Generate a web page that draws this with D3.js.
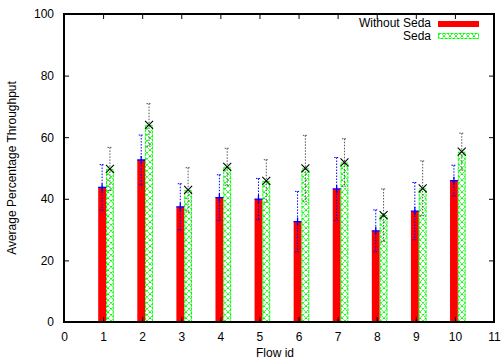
<!DOCTYPE html>
<html>
<head>
<meta charset="utf-8">
<script src="https://cdn.jsdelivr.net/npm/d3@7"></script>
<style>
  html, body { margin: 0; padding: 0; background: #fff; }
  svg { display: block; font-family: "Liberation Sans", Arial, Helvetica, sans-serif; }
</style>
</head>
<body>
<svg id="chart" width="501" height="362"></svg>
<script>
// Average throughput per flow, with and without Seda (mean and +/- error)
const flows = [1, 2, 3, 4, 5, 6, 7, 8, 9, 10];
const withoutSeda = [43.7, 52.6, 37.4, 40.4, 39.9, 32.6, 43.2, 29.6, 36.0, 45.9];
const withoutSedaErr = [7.4, 8.1, 7.5, 7.4, 6.7, 9.8, 10.2, 6.8, 9.3, 5.0];
const withSeda = [49.7, 64.0, 42.9, 50.4, 45.8, 49.9, 51.8, 34.7, 43.4, 55.3];
const withSedaErr = [7.0, 6.9, 7.2, 6.0, 6.9, 10.7, 7.7, 8.5, 8.9, 6.0];
const xTicks = [0, 1, 2, 3, 4, 5, 6, 7, 8, 9, 10, 11];
const yTicks = [0, 20, 40, 60, 80, 100];
const seriesNames = ["Without Seda", "Seda"];

const svg = d3.select("#chart");
const plotL = 64, plotR = 494, plotT = 14, plotB = 322;

const x = d3.scaleLinear().domain([0, 11]).range([plotL, plotR]);
const y = d3.scaleLinear().domain([0, 100]).range([plotB, plotT]);

// crosshatch fill for the Seda bars
const defs = svg.append("defs");
const pat = defs.append("pattern")
  .attr("id", "hatch")
  .attr("patternUnits", "userSpaceOnUse")
  .attr("width", 6).attr("height", 6);
pat.append("rect").attr("width", 6).attr("height", 6).attr("fill", "#fff");
pat.append("path")
  .attr("d", "M0,0 L6,6 M6,0 L0,6")
  .attr("stroke", "#00ff00").attr("stroke-width", 1)
  .attr("stroke-dasharray", "2,1");

const barW = 0.2;
const redOff = -0.125, greenOff = 0.075;

const rows = flows.map((f, i) => ({
  f, a: withoutSeda[i], ae: withoutSedaErr[i], b: withSeda[i], be: withSedaErr[i]
}));

// Without Seda bars
svg.append("g").selectAll("rect").data(rows).join("rect")
  .attr("x", d => x(d.f + redOff))
  .attr("width", d => x(d.f + redOff + barW) - x(d.f + redOff))
  .attr("y", d => y(d.a))
  .attr("height", d => y(0) - y(d.a))
  .attr("fill", "#ff0000");

// Seda bars
svg.append("g").selectAll("rect").data(rows).join("rect")
  .attr("x", d => x(d.f + greenOff) + 0.5)
  .attr("width", d => x(d.f + greenOff + barW) - x(d.f + greenOff) - 1)
  .attr("y", d => y(d.b) + 0.5)
  .attr("height", d => y(0) - y(d.b) - 0.5)
  .attr("fill", "url(#hatch)")
  .attr("stroke", "#00ff00")
  .attr("stroke-width", 1)
  .attr("stroke-dasharray", "3,1");

// error bars
function errorBars(cls, getX, getV, getE, color) {
  const g = svg.append("g").attr("class", cls);
  rows.forEach(d => {
    const cx = x(getX(d));
    const y1 = y(getV(d) + getE(d)), y2 = y(getV(d) - getE(d));
    g.append("line").attr("x1", cx).attr("x2", cx).attr("y1", y1).attr("y2", y2)
      .attr("stroke", color).attr("stroke-width", 1).attr("stroke-dasharray", "1.5,1.5");
    [y1, y2].forEach(yy => {
      g.append("line").attr("x1", cx - 2.5).attr("x2", cx + 2.5).attr("y1", yy).attr("y2", yy)
        .attr("stroke", color).attr("stroke-width", 1).attr("stroke-dasharray", "1.5,1");
    });
  });
  return g;
}
errorBars("err-a", d => d.f + redOff + barW / 2, d => d.a, d => d.ae, "#0000ff");
errorBars("err-b", d => d.f + greenOff + barW / 2, d => d.b, d => d.be, "#555");

// point markers: + for Without Seda, x for Seda
const mk = svg.append("g");
rows.forEach(d => {
  const cx = x(d.f + redOff + barW / 2), cy = y(d.a);
  mk.append("path").attr("d", `M${cx - 4},${cy} H${cx + 4} M${cx},${cy - 4} V${cy + 4}`)
    .attr("stroke", "#0000ff").attr("stroke-width", 1.3);
  const gx = x(d.f + greenOff + barW / 2), gy = y(d.b);
  mk.append("path").attr("d", `M${gx - 4},${gy - 4} L${gx + 4},${gy + 4} M${gx + 4},${gy - 4} L${gx - 4},${gy + 4}`)
    .attr("stroke", "#000").attr("stroke-width", 1.1);
});

// axes (ticks point inward, mirrored on top and right)
const axB = svg.append("g").attr("transform", `translate(0,${plotB})`)
  .call(d3.axisBottom(x).tickValues(xTicks).tickSizeInner(-5).tickSizeOuter(0).tickPadding(12));
const axT = svg.append("g").attr("transform", `translate(0,${plotT})`)
  .call(d3.axisTop(x).tickValues(xTicks).tickSizeInner(-5).tickSizeOuter(0).tickFormat(""));
const axL = svg.append("g").attr("transform", `translate(${plotL},0)`)
  .call(d3.axisLeft(y).tickValues(yTicks).tickSizeInner(-5).tickSizeOuter(0).tickPadding(10));
const axR = svg.append("g").attr("transform", `translate(${plotR},0)`)
  .call(d3.axisRight(y).tickValues(yTicks).tickSizeInner(-5).tickSizeOuter(0).tickFormat(""));
[axB, axT, axL, axR].forEach(a => {
  a.select(".domain").remove();
  a.selectAll(".tick line").attr("stroke", "#000");
  a.selectAll("text").attr("font-size", 12).attr("fill", "#000")
    .attr("font-family", "'Liberation Sans', Arial, sans-serif");
});
axB.selectAll("text").attr("dy", "0.71em").attr("y", 10);

// frame
svg.append("rect").attr("x", plotL).attr("y", plotT)
  .attr("width", plotR - plotL).attr("height", plotB - plotT)
  .attr("fill", "none").attr("stroke", "#000").attr("stroke-width", 2);

// axis titles
svg.append("text").attr("x", 275).attr("y", 357)
  .attr("text-anchor", "middle").attr("font-size", 12).text("Flow id");
svg.append("text")
  .attr("transform", `translate(16,${(plotT + plotB) / 2}) rotate(-90)`)
  .attr("text-anchor", "middle").attr("font-size", 12).text("Average Percentage Throughput");

// legend
const lg = svg.append("g");
lg.append("text").attr("x", 431).attr("y", 27).attr("text-anchor", "end")
  .attr("font-size", 12).text(seriesNames[0]);
lg.append("rect").attr("x", 438).attr("y", 21).attr("width", 41).attr("height", 6)
  .attr("fill", "#ff0000");
lg.append("text").attr("x", 431).attr("y", 40).attr("text-anchor", "end")
  .attr("font-size", 12).text(seriesNames[1]);
lg.append("rect").attr("x", 438.5).attr("y", 33.5).attr("width", 40).attr("height", 5)
  .attr("fill", "url(#hatch)").attr("stroke", "#00ff00").attr("stroke-width", 1)
  .attr("stroke-dasharray", "3,1");
</script>
</body>
</html>
